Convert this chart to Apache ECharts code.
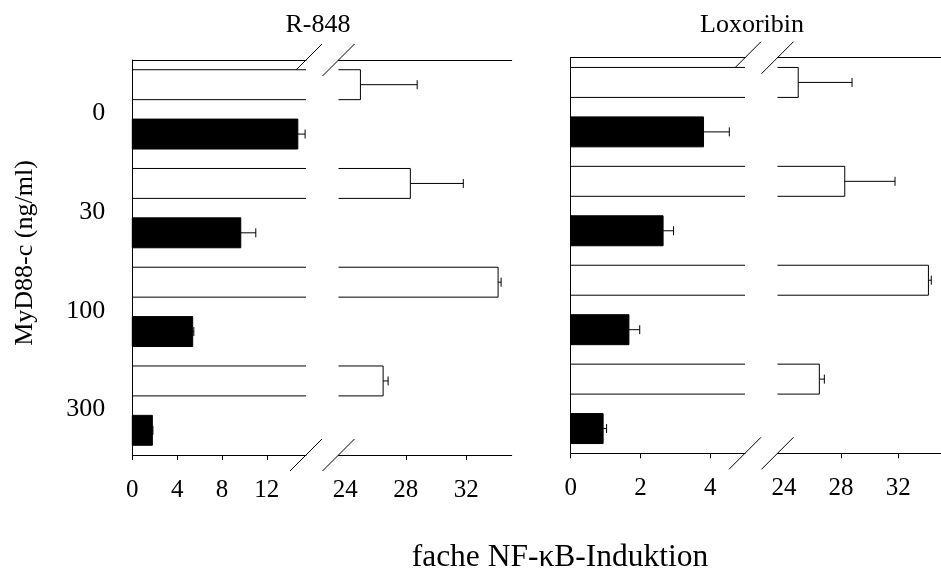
<!DOCTYPE html>
<html>
<head>
<meta charset="utf-8">
<title>MyD88-c NF-kB</title>
<script src="https://cdn.jsdelivr.net/npm/echarts@6.0.0/dist/echarts.min.js"></script>
<style>
  html, body { margin: 0; padding: 0; background: #fff; }
  #chart { width: 941px; height: 578px; }
</style>
</head>
<body>
<div id="chart"></div>
<script>
// data
var categories = ['0', '30', '100', '300'];
var r848Ctrl = [25.0, 28.3, 34.1, 26.5];
var r848CtrlErr = [3.75, 3.5, 0.2, 0.33];
var r848Stim = [14.77, 9.68, 5.39, 1.79];
var r848StimErr = [0.65, 1.34, 0.1, 0.05];
var loxCtrl = [25.0, 28.26, 34.12, 26.48];
var loxCtrlErr = [3.77, 3.52, 0.2, 0.35];
var loxStim = [3.81, 2.65, 1.67, 0.93];
var loxStimErr = [0.74, 0.3, 0.31, 0.1];
var r848LowTicks = [0, 4, 8, 12];
var loxLowTicks = [0, 2, 4];
var highTicks = [24, 28, 32];
var highTickMarks = [28, 32];

var r848Low = [0, 15.5];
var loxLow = [0, 5];
var high = [23.55, 35];

var FONT = 'Liberation Serif';

// grid boxes (left panel = R-848, right panel = Loxoribin)
var grids = [
    { left: 132.3, top: 60, width: 173.7, height: 395 },
    { left: 338.5, top: 60, width: 173.2, height: 395 },
    { left: 570.7, top: 57.7, width: 174.3, height: 395.6 },
    { left: 777.5, top: 57.7, width: 173.9, height: 395.6 }
];
var ranges = [r848Low, high, loxLow, high];

function buildItems(ctrl, ctrlErr, stim, stimErr) {
    var out = [];
    for (var i = 0; i < categories.length; i++) {
        out.push([i, ctrl[i], ctrlErr[i], 0]);
        out.push([i, stim[i], stimErr[i], 1]);
    }
    return out;
}
var r848Items = buildItems(r848Ctrl, r848CtrlErr, r848Stim, r848StimErr);
var loxItems = buildItems(loxCtrl, loxCtrlErr, loxStim, loxStimErr);

function makeRender(seg) {
    return function (params, api) {
        var cat = api.value(0), val = api.value(1), err = api.value(2), kind = api.value(3);
        if (val < seg[0]) return null;
        var cs = params.coordSys;
        var band = api.size([0, 1])[1];
        var c = api.coord([val, cat]);
        var yc = c[1] + (kind === 0 ? -0.25 : 0.25) * band;
        var h = band * 0.303;
        var y0 = yc - h / 2, y1 = yc + h / 2;
        var x0 = cs.x;
        var open = val > seg[1];
        var xe = open ? cs.x + cs.width : c[0];
        var kids = [];
        var line = { stroke: '#000', lineWidth: 1, fill: null };
        if (kind === 0) {
            kids.push({ type: 'rect', shape: { x: x0, y: y0, width: xe - x0, height: h }, style: { fill: '#fff' } });
            if (open) {
                kids.push({ type: 'line', shape: { x1: x0, y1: y0, x2: xe, y2: y0 }, style: line });
                kids.push({ type: 'line', shape: { x1: x0, y1: y1, x2: xe, y2: y1 }, style: line });
            } else {
                kids.push({ type: 'polyline', shape: { points: [[x0, y0], [xe, y0], [xe, y1], [x0, y1]] }, style: line });
            }
        } else {
            kids.push({ type: 'rect', shape: { x: x0, y: y0, width: xe - x0, height: h }, style: { fill: '#000', stroke: '#000', lineWidth: 1 } });
        }
        if (!open && err > 0) {
            var xr = api.coord([val + err, cat])[0];
            kids.push({ type: 'line', shape: { x1: xe, y1: yc, x2: xr, y2: yc }, style: line });
            kids.push({ type: 'line', shape: { x1: xr, y1: yc - 4.5, x2: xr, y2: yc + 4.5 }, style: line });
        }
        return { type: 'group', children: kids };
    };
}

var labelStyle = { color: '#000', fontFamily: FONT, fontSize: 25 };

var xAxes = [], yAxes = [], series = [];
var tickSets = [r848LowTicks, highTicks, loxLowTicks, highTicks];
var tickMarks = [r848LowTicks, highTickMarks, loxLowTicks, highTickMarks];
var itemSets = [r848Items, r848Items, loxItems, loxItems];
grids.forEach(function (g, i) {
    xAxes.push({
        gridIndex: i, type: 'value', min: ranges[i][0], max: ranges[i][1], z: 5,
        axisLine: { show: true, lineStyle: { color: '#000', width: 1 } },
        axisTick: { show: true, length: 5, customValues: tickMarks[i], lineStyle: { color: '#000' } },
        axisLabel: Object.assign({ margin: 23, customValues: tickSets[i] }, labelStyle),
        splitLine: { show: false }
    });
    yAxes.push({
        gridIndex: i, type: 'category', data: categories, inverse: true, z: 5,
        show: i === 0 || i === 2,
        axisLine: { show: true, lineStyle: { color: '#000', width: 1 } },
        axisTick: { show: false },
        axisLabel: {
            show: i === 0, margin: 27, color: '#000',
            formatter: function (v) { return '{c|' + v + '}'; },
            rich: { c: { fontSize: 26, fontFamily: FONT, color: '#000', padding: [8, 0, 0, 0] } }
        }
    });
    series.push({
        type: 'custom', xAxisIndex: i, yAxisIndex: i,
        renderItem: makeRender(ranges[i]),
        encode: { x: 1, y: 0 },
        data: itemSets[i]
    });
});
// top frame lines
grids.forEach(function (g, i) {
    xAxes.push({
        gridIndex: i, type: 'value', position: 'top', min: ranges[i][0], max: ranges[i][1], z: 5,
        axisLine: { show: true, lineStyle: { color: '#000', width: 1 } },
        axisTick: { show: false }, axisLabel: { show: false }, splitLine: { show: false }
    });
});

// break marks
var graphics = [];
function slash(x, y) {
    graphics.push({ type: 'line', z: 0, shape: { x1: x - 16, y1: y + 16, x2: x + 16, y2: y - 16 },
        style: { stroke: '#000', lineWidth: 1 } });
}
[[0, 1], [2, 3]].forEach(function (p) {
    var a = grids[p[0]], b = grids[p[1]];
    [a.top, a.top + a.height].forEach(function (y) {
        slash(a.left + a.width, y);
        slash(b.left, y);
    });
});
function txt(s, x, y, size, rot) {
    graphics.push({ type: 'text', x: x, y: y, rotation: rot || 0, z: 5,
        style: { text: s, font: size + 'px "' + FONT + '"', fill: '#000',
            align: 'center', verticalAlign: 'middle', textAlign: 'center', textVerticalAlign: 'middle' } });
}
txt('R-848', 318, 25, 26);
txt('Loxoribin', 752, 25, 26);
txt('MyD88-c (ng/ml)', 25, 253, 26, Math.PI / 2);
txt('fache NF-\u03baB-Induktion', 560, 558, 31.5);

var chart = echarts.init(document.getElementById('chart'));
chart.setOption({
    animation: false,
    backgroundColor: '#fff',
    grid: grids,
    xAxis: xAxes,
    yAxis: yAxes,
    series: series,
    graphic: { elements: graphics }
});
</script>
</body>
</html>
